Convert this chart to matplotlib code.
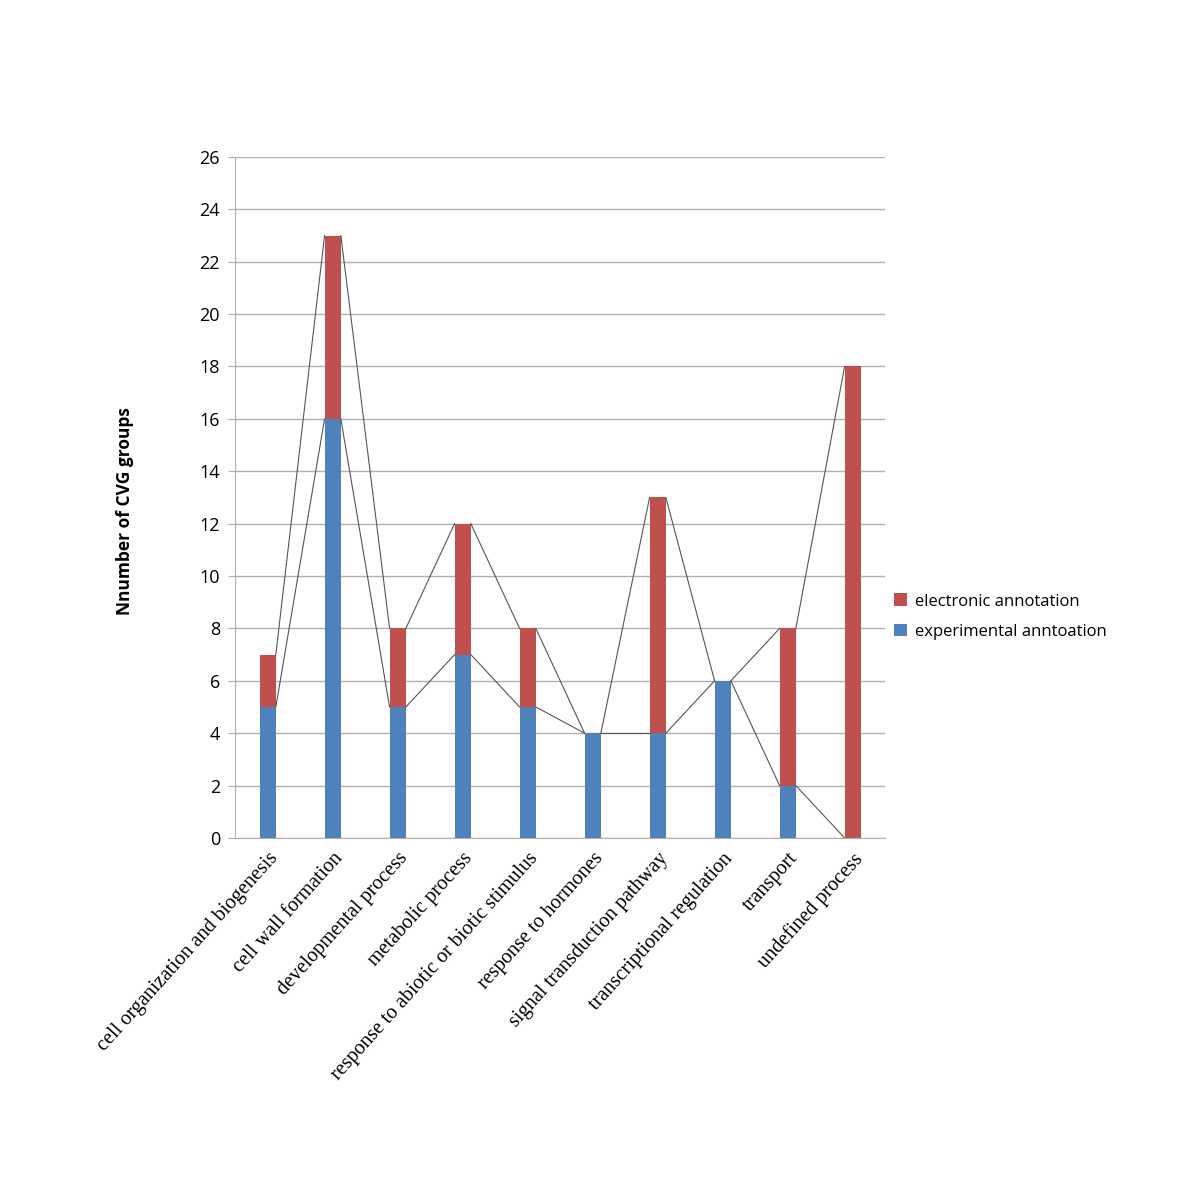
import matplotlib
matplotlib.use("Agg")
import matplotlib.pyplot as plt
import numpy as np

categories = ["cell organization and biogenesis", "cell wall formation", "developmental process",
              "metabolic process", "response to abiotic or biotic stimulus", "response to hormones",
              "signal transduction pathway", "transcriptional regulation", "transport", "undefined process"]
experimental = [5, 16, 5, 7, 5, 4, 4, 6, 2, 0]
electronic = [2, 7, 3, 5, 3, 0, 9, 0, 6, 18]
yticks = list(range(0, 27, 2))

blue = "#4f81bd"
red = "#c0504d"

fig = plt.figure(figsize=(12, 12), dpi=100)
ax = fig.add_axes([0.196, 0.3017, 0.5417, 0.5675])

x = np.arange(len(categories))
w = 0.25
exp = np.array(experimental)
ele = np.array(electronic)
b1 = ax.bar(x, exp, w, color=blue, label="experimental anntoation", zorder=2)
b2 = ax.bar(x, ele, w, bottom=exp, color=red, label="electronic annotation", zorder=2)

# series lines
for tops in (exp, exp + ele):
    for i in range(len(x) - 1):
        ax.plot([x[i] + w / 2, x[i + 1] - w / 2], [tops[i], tops[i + 1]],
                color="#555555", lw=0.8, zorder=3)

ax.set_xlim(-0.5, len(x) - 0.5)
ax.set_ylim(0, 26)
ax.set_yticks(yticks)
ax.set_yticklabels([str(v) for v in yticks], fontsize=13, family="Open Sans")
ax.yaxis.grid(True, color="#b0b0b0", lw=1)
ax.set_axisbelow(True)
for s in ["top", "right"]:
    ax.spines[s].set_visible(False)
ax.spines["left"].set_color("#b0b0b0")
ax.spines["bottom"].set_color("#b0b0b0")
ax.tick_params(axis="y", length=5, color="#b0b0b0", pad=6)
ax.tick_params(axis="x", length=0, pad=8)
ax.set_xticks(x)
ax.set_xticklabels(categories, rotation=48, ha="right", va="top", rotation_mode="anchor",
                   fontsize=14.6, family="Liberation Serif")
ax.set_ylabel("Nnumber of CVG groups", fontsize=12.5, fontweight="bold", family="Open Sans",
              labelpad=32)
ax.yaxis.set_label_coords(-0.155, 0.48)

handles = [b2, b1]
ax.legend(handles, [h.get_label() for h in handles], loc="center left",
          bbox_to_anchor=(0.99, 0.325), frameon=False,
          prop={"family": "Open Sans", "size": 12}, handlelength=0.8, handleheight=0.8,
          handletextpad=0.5, labelspacing=0.85)

fig.savefig("out.png", dpi=100, facecolor="white")
